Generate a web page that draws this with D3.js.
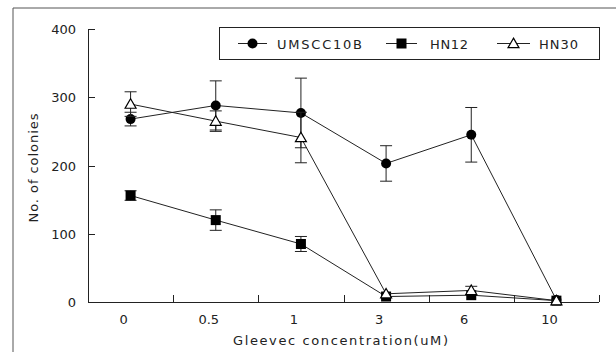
<!DOCTYPE html>
<html>
<head>
<meta charset="utf-8">
<script src="https://cdn.jsdelivr.net/npm/d3@7"></script>
<style>
  body { margin: 0; background: #fff; }
  svg { display: block; font-family: 'DejaVu Sans', sans-serif; }
</style>
</head>
<body>
<div id="app"></div>
<script>
const doses = ['0', '0.5', '1', '3', '6', '10'];
const yTicks = [0, 100, 200, 300, 400];

const umscc10b    = [268, 288, 277, 203, 245, 3];
const umscc10bErr = [10, 36, 51, 26, 40, 0];
const hn12        = [156, 120, 85, 8, 10, 2];
const hn12Err     = [7, 15, 11, 0, 0, 0];
const hn30        = [290, 265, 241, 12, 17, 2];
const hn30Err     = [18, 15, 37, 0, 6, 0];

const series = [
  { name: 'UMSCC10B', values: umscc10b, errs: umscc10bErr, shape: 'circle' },
  { name: 'HN12', values: hn12, errs: hn12Err, shape: 'square' },
  { name: 'HN30', values: hn30, errs: hn30Err, shape: 'triangle' }
];

const W = 616, H = 352;
const svg = d3.select('#app').append('svg').attr('width', W).attr('height', H);

// scanned page frame
svg.append('path')
  .attr('d', 'M13,352 V8 H616')
  .attr('fill', 'none').attr('stroke', '#555').attr('stroke-width', 1);

const x = d3.scaleBand().domain(doses).range([88, 599]);
const y = d3.scaleLinear().domain([0, 400]).range([302, 29]);

// y axis
svg.append('line')
  .attr('x1', 88.5).attr('x2', 88.5).attr('y1', y(400)).attr('y2', y(0))
  .attr('stroke', '#222');
const yt = svg.append('g').selectAll('g').data(yTicks).enter().append('g');
yt.append('line')
  .attr('x1', 88).attr('x2', 95)
  .attr('y1', d => Math.round(y(d)) + 0.5).attr('y2', d => Math.round(y(d)) + 0.5)
  .attr('stroke', '#222');
yt.append('text')
  .attr('x', 76).attr('y', d => y(d) + 5)
  .attr('text-anchor', 'end').attr('font-size', 13).attr('fill', '#222')
  .text(d => d);

// x axis
svg.append('line')
  .attr('x1', 88).attr('x2', 599).attr('y1', 302.5).attr('y2', 302.5)
  .attr('stroke', '#222');
const edges = doses.slice(1).map(d => x(d)).concat([x.range()[1]]);
svg.append('g').selectAll('line').data(edges).enter().append('line')
  .attr('x1', d => Math.round(d) + 0.5).attr('x2', d => Math.round(d) + 0.5)
  .attr('y1', 302).attr('y2', 295)
  .attr('stroke', '#222');
svg.append('g').selectAll('text').data(doses).enter().append('text')
  .attr('x', d => x(d) + x.bandwidth() / 2 - 7)
  .attr('y', 324)
  .attr('text-anchor', 'middle').attr('font-size', 13).attr('fill', '#222')
  .text(d => d);

svg.append('text')
  .attr('x', 233).attr('y', 345)
  .attr('font-size', 13).attr('fill', '#222')
  .attr('textLength', 215).attr('lengthAdjust', 'spacing')
  .text('Gleevec concentration(uM)');

svg.append('text')
  .attr('transform', 'translate(38,168) rotate(-90)')
  .attr('text-anchor', 'middle')
  .attr('font-size', 13).attr('fill', '#222')
  .attr('textLength', 109).attr('lengthAdjust', 'spacing')
  .text('No. of colonies');

const cx = i => x(doses[i]) + x.bandwidth() / 2;

const drawMarker = (g, shape, px, py) => {
  if (shape === 'circle') {
    g.append('circle').attr('cx', px).attr('cy', py).attr('r', 5).attr('fill', '#000');
  } else if (shape === 'square') {
    g.append('rect').attr('x', px - 5).attr('y', py - 5).attr('width', 10).attr('height', 10).attr('fill', '#000');
  } else {
    g.append('path')
      .attr('d', d3.symbol(d3.symbolTriangle, 52)())
      .attr('transform', `translate(${px},${py + 1})`)
      .attr('fill', '#fff').attr('stroke', '#000').attr('stroke-width', 1.2);
  }
};

const line = d3.line().x((d, i) => cx(i)).y(d => y(d));

series.forEach(s => {
  const g = svg.append('g');
  g.append('path').datum(s.values)
    .attr('d', line).attr('fill', 'none').attr('stroke', '#222').attr('stroke-width', 1);
  s.values.forEach((v, i) => {
    const e = s.errs[i];
    if (e > 0) {
      const px = cx(i);
      g.append('line').attr('x1', px).attr('x2', px).attr('y1', y(v - e)).attr('y2', y(v + e))
        .attr('stroke', '#222');
      [v - e, v + e].forEach(t => {
        g.append('line').attr('x1', px - 6).attr('x2', px + 6).attr('y1', y(t)).attr('y2', y(t))
          .attr('stroke', '#222');
      });
    }
  });
  s.values.forEach((v, i) => drawMarker(g, s.shape, cx(i), y(v)));
});

// legend
const lg = svg.append('g');
lg.append('rect')
  .attr('x', 219.5).attr('y', 27.5).attr('width', 380).attr('height', 32)
  .attr('fill', '#fff').attr('stroke', '#222');
const legendItems = [
  { s: series[0], x1: 238, x2: 267, tx: 277, tw: 85 },
  { s: series[1], x1: 386, x2: 417, tx: 430, tw: 38 },
  { s: series[2], x1: 497, x2: 530, tx: 539, tw: 39 }
];
legendItems.forEach(it => {
  lg.append('line').attr('x1', it.x1).attr('x2', it.x2).attr('y1', 43.5).attr('y2', 43.5)
    .attr('stroke', '#222');
  drawMarker(lg, it.s.shape, (it.x1 + it.x2) / 2, 43.5);
  lg.append('text')
    .attr('x', it.tx).attr('y', 48.5)
    .attr('font-size', 13).attr('fill', '#222')
    .attr('textLength', it.tw).attr('lengthAdjust', 'spacing')
    .text(it.s.name);
});
</script>
</body>
</html>
